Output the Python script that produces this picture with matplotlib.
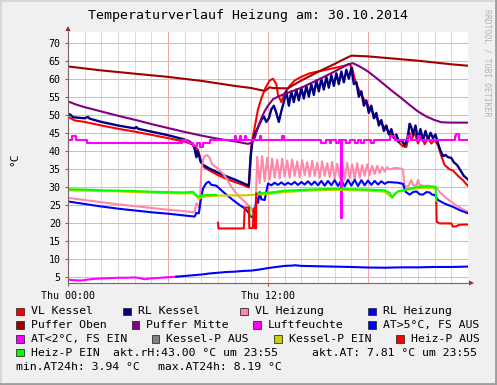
import numpy as np
import matplotlib
matplotlib.use("Agg")
import matplotlib.pyplot as plt
from matplotlib.patches import Rectangle, Polygon
from matplotlib.lines import Line2D

NAN = np.nan
MONO = "DejaVu Sans Mono"

# ---------------- data (hours since Thu 00:00, degC / %) ----------------
vk_t = [0, 0.4, 1, 2, 3, 4, 5, 6, 7, 7.4, 7.6, 7.8, 7.9, 8.0, 8.2, 8.5, 9.0, 9.5, 10.0, 10.5, 10.85,
        11.0, 11.2, 11.4, 11.6, 11.85, 12.1, 12.3, 12.5, 12.6, 12.8, 13.0, 13.3, 13.6, 14.0, 14.5, 15.0,
        15.5, 16.0, 16.5, 16.9, 17.05, 17.2, 17.4, 17.6, 17.8, 18.0, 18.3, 18.6, 18.9, 19.2, 19.5, 19.8,
        20.1, 20.3, 20.5, 20.6, 20.8, 21.0, 21.2, 21.4, 21.6, 21.8, 22.0, 22.2, 22.4, 22.6, 22.9, 23.1,
        23.4, 23.7, 24.0]
vk_v = [49.4, 48.4, 48.0, 47.0, 46.1, 45.3, 44.4, 43.5, 42.5, 41.9, 41.3, 40.2, 38.5, 36.8, 35.3, 34.5,
        33.2, 32.2, 31.3, 30.5, 29.8, 41.5, 46.5, 51.5, 54.5, 57.5, 59.5, 60.0, 58.5, 55.5, 53.5, 56.0,
        58.0, 59.5, 60.5, 61.5, 62.0, 62.5, 63.0, 63.5, 64.0, 63.0, 60.0, 57.5, 55.5, 54.0, 52.5, 50.5,
        48.5, 47.0, 45.5, 44.0, 42.5, 41.2, 41.0, 45.0, 43.0, 45.0, 42.0, 44.5, 41.8, 43.5, 42.0, 43.0,
        41.5, 38.5, 36.0, 34.8, 34.5, 33.0, 31.8, 30.2]

rk_t = [0, 0.15, 0.3, 1.0, 1.2, 1.3, 2, 3, 4, 4.1, 4.2, 5, 6, 7, 7.3, 7.5, 7.6, 7.7, 7.75, 7.85, 7.95,
        8.05, 8.2, 8.5, 9.0, 9.5, 10.0, 10.5, 10.85, 10.95, 11.05, 11.2, 11.4, 11.6, 11.75, 11.9, 12.05,
        12.2, 12.35, 12.5, 12.65, 12.8, 12.95, 13.1, 13.25, 13.4, 13.55, 13.7, 13.85, 14.0, 14.15, 14.3,
        14.45, 14.6, 14.75, 14.9, 15.05, 15.2, 15.35, 15.5, 15.65, 15.8, 15.95, 16.1, 16.25, 16.4, 16.55,
        16.7, 16.85, 17.0, 17.15, 17.3, 17.45, 17.6, 17.75, 17.9, 18.05, 18.2, 18.35, 18.5, 18.65, 18.8,
        18.95, 19.1, 19.25, 19.4, 19.55, 19.7, 19.85, 20.0, 20.2, 20.35, 20.5, 20.6, 20.7, 20.85, 21.0,
        21.15, 21.3, 21.45, 21.6, 21.75, 21.9, 22.05, 22.2, 22.35, 22.5, 22.65, 22.8, 23.0, 23.15, 23.35,
        23.55, 23.75, 24.0]
rk_v = [50.2, 50.0, 49.3, 49.0, 49.4, 48.9, 48.0, 47.0, 46.2, 46.6, 46.1, 45.3, 44.3, 43.1, 42.5, 41.8,
        40.5, 38.2, 40.0, 39.0, 37.0, 36.3, 35.8, 35.0, 33.9, 32.9, 32.0, 31.0, 30.3, 38.0, 42.0, 44.5,
        46.5, 48.5, 49.5, 48.0, 49.0, 51.5, 52.5, 50.5, 48.0, 51.0, 53.5, 56.5, 52.5, 56.5, 53.5, 57.0,
        54.0, 57.5, 54.5, 58.0, 55.0, 58.5, 55.5, 59.5, 56.5, 60.0, 57.0, 60.5, 57.5, 61.0, 58.0, 61.5,
        58.5, 62.0, 59.0, 62.5, 60.0, 63.0, 58.5, 59.0, 55.0, 56.5, 52.5, 54.0, 50.5, 52.5, 49.0, 50.5,
        47.0, 48.5, 45.5, 47.0, 44.5, 46.0, 43.5, 44.5, 42.5, 43.0, 41.5, 43.0, 47.5, 46.5, 44.5, 47.0,
        43.0, 46.0, 42.8, 45.5, 43.0, 45.0, 43.5, 44.5, 42.0, 40.0, 38.5, 38.8, 38.2, 38.0, 36.8, 36.0,
        34.5, 33.0, 32.0]

vh_t = [0, 1, 2, 3, 4, 5, 6, 7, 7.5, 7.6, 7.7, 7.8, 7.9, 8.0, 8.15, 8.35, 8.5, 8.65, 9.0, 9.4, 9.8,
        10.2, 10.5, 10.9, 11.1, 11.25,
        11.35, 11.5, 11.65, 11.8, 11.95, 12.1, 12.25, 12.4, 12.55, 12.7, 12.85, 13.0, 13.15, 13.3, 13.45,
        13.6, 13.75, 13.9, 14.05, 14.2, 14.35, 14.5, 14.65, 14.8, 14.95, 15.1, 15.25, 15.4, 15.55, 15.7,
        15.85, 16.0, 16.15, 16.3, 16.45, 16.6, 16.75, 16.9, 17.05, 17.2, 17.35, 17.5, 17.65, 17.8, 17.95,
        18.1, 18.25, 18.4, 18.55, 18.7, 18.85, 19.0, 19.15, 19.3,
        19.6, 19.9, 20.1, 20.2, 20.4, 20.6, 20.7, 20.9, 21.0, 21.1, 21.4, 21.6, 21.9, 22.1, 22.3, 22.6,
        23.1, 23.5, 24.0]
vh_v = [26.9, 26.3, 25.7, 25.1, 24.6, 24.1, 23.6, 23.2, 22.9, 23.0, 25.4, 25.0, 24.0, 34.6, 38.3, 38.8,
        38.0, 36.2, 35.0, 33.1, 30.0, 27.5, 26.3, 24.5, 23.0, 22.8,
        38.3, 31.0, 38.5, 31.5, 38.0, 32.0, 37.8, 32.5, 37.5, 32.3, 37.8, 32.8, 37.3, 32.5, 37.6, 33.0,
        37.0, 32.6, 37.4, 33.2, 36.8, 32.8, 37.2, 33.0, 36.6, 32.5, 37.0, 33.0, 36.5, 32.6, 36.9, 32.2,
        36.4, 32.5, 37.0, 32.0, 36.6, 32.4, 36.2, 32.0, 36.5, 32.5, 36.0, 33.0, 36.2, 33.2, 35.8, 33.5,
        35.8, 33.8, 35.5, 34.2, 35.4, 34.8,
        35.2, 35.1, 34.8, 30.2, 30.0, 31.8, 30.5, 30.2, 31.9, 30.5, 30.2, 30.3, 30.0, 29.8, 28.5, 27.2,
        25.4, 24.2, 23.0]

rh_t = [0, 1, 2, 3, 4, 5, 6, 7, 7.6, 7.7, 7.85, 7.95, 8.1, 8.3, 8.45, 8.6, 8.9, 9.2, 9.5, 9.9, 10.3,
        10.6, 10.8, 10.95, 11.2, 11.3, 11.4, 11.5, 11.6, 11.8,
        12.0, 12.2, 12.4, 12.6, 12.8, 13.0, 13.2, 13.4, 13.6, 13.8, 14.0, 14.2, 14.4, 14.6, 14.8, 15.0,
        15.2, 15.4, 15.6, 15.8, 16.0, 16.2, 16.4, 16.6, 16.8, 17.0, 17.2, 17.4, 17.6, 17.8, 18.0, 18.2,
        18.4, 18.6, 18.8, 19.0, 19.2, 19.5, 19.8, 20.1, 20.25, 20.5, 20.7, 20.9, 21.1, 21.3, 21.5, 21.7,
        21.85, 22.0, 22.2, 22.6, 23.1, 23.5, 24.0]
rh_v = [25.9, 25.2, 24.5, 23.9, 23.4, 22.9, 22.5, 22.0, 21.7, 22.7, 22.6, 25.8, 29.5, 31.0, 31.4, 30.5,
        30.3, 29.0, 27.8, 26.3, 24.9, 24.0, 23.0, 21.7, 21.6, 27.0, 25.5, 28.5, 26.5, 26.3,
        30.9, 30.4, 31.1, 30.5, 31.2, 30.5, 31.1, 30.6, 31.3, 30.5, 31.3, 30.6, 31.5, 30.5, 31.4, 30.4,
        31.6, 30.3, 31.6, 30.4, 31.8, 30.2, 31.8, 30.1, 31.9, 30.3, 31.9, 30.2, 31.8, 30.4, 31.7, 30.5,
        31.6, 30.6, 31.5, 30.8, 31.3, 31.2, 31.1, 30.8, 28.6, 27.8, 28.5, 28.7, 27.9, 27.8, 28.5, 28.4,
        27.8, 27.7, 26.3, 25.3, 24.4, 23.5, 22.6]

po_t = [0, 2, 4, 6, 8, 10, 11, 11.8, 12.1, 12.3, 13.2, 13.5, 14, 14.5, 15, 15.5, 16, 16.5, 17,
        18, 19, 20, 21, 22, 23, 24]
po_v = [63.4, 62.3, 61.4, 60.5, 59.4, 58.0, 57.4, 56.6, 57.6, 57.4, 57.3, 58.2, 59.5, 60.7, 61.9,
        63.0, 64.1, 65.3, 66.4, 66.2, 65.8, 65.4, 65.0, 64.5, 64.0, 63.6]

pm_t = [0, 0.5, 1, 2, 3, 4, 5, 6, 7, 8, 9, 10, 10.8, 11.0, 11.2, 11.4, 11.6, 11.8, 12.0, 12.3, 12.6,
        13.0, 13.5, 14.0, 15, 16, 16.8, 17.1, 17.5, 18, 18.5, 19, 19.5, 20, 20.5, 21, 21.5, 22, 22.4,
        23, 24]
pm_v = [53.7, 52.8, 52.1, 50.9, 49.7, 48.6, 47.4, 46.3, 45.2, 44.2, 43.3, 42.6, 41.9, 42.2, 43.5,
        46.5, 49.0, 51.0, 52.5, 54.3, 55.0, 55.8, 56.6, 57.5, 59.7, 62.0, 64.0, 64.3, 63.4, 62.0, 60.2,
        58.3, 56.4, 54.6, 52.7, 50.9, 49.5, 48.5, 47.9, 47.8, 47.8]

lf_t = [0, 0.24, 0.50, 1.14, 6.82, 7.22, 7.52, 7.72, 7.92, 8.08, 8.52, 10.0, 10.1, 10.3, 10.4, 10.6,
        10.7, 11.5, 11.6, 12.85, 12.95, 15.2, 15.5, 15.7, 15.8, 16.1, 16.25, 16.38, 16.42, 16.7, 16.9,
        17.2, 17.4, 17.6, 17.75, 18.2, 18.35, 19.3, 19.6, 20.4, 20.55, 21.0, 21.1, 23.2, 23.3, 23.45, 24]
lf_v = [43, 44, 43, 42, 43, 42, 41.2, 42, 41, 42, 43, 44, 43, 44, 43, 44, 43, 44, 43, 44, 43, 42, 43,
        42, 43, 42, 43, 21.3, 43, 42, 43, 42, 43, 42, 43, 42, 43, 44, 43, 44, 43, 44, 43, 44, 44.7, 43, 43]

at_t = [0, 0.4, 0.8, 1.2, 1.6, 2.0, 2.5, 3.0, 3.5, 4.0, 4.3, 4.6, 4.9, 5.3, 5.8, 6.5, 7.0, 7.5, 8.0,
        8.5, 9.0, 9.5, 10.0, 10.5, 11.0, 11.5, 12.0, 12.5, 13.0, 13.5, 13.6, 14.0, 15.0, 16.0, 17.0,
        18.0, 19.0, 20.0, 21.0, 22.0, 23.0, 24.0]
at_v = [4.2, 4.0, 3.95, 4.2, 4.4, 4.5, 4.6, 4.7, 4.7, 4.8, 4.6, 4.3, 4.5, 4.6, 4.8, 5.0, 5.2, 5.4, 5.6,
        5.9, 6.1, 6.3, 6.4, 6.6, 6.7, 7.0, 7.4, 7.7, 8.0, 8.1, 8.19, 8.0, 7.9, 7.8, 7.7, 7.55, 7.5,
        7.6, 7.6, 7.7, 7.7, 7.81]
at_split = 15  # index where the outdoor line turns from magenta to blue

kp_t = [0, 1, 2, 3, 4, 5, 6, 7, 7.5, 7.7, 7.85, 8.0, 8.3, 9, 10, 10.5, 11.0, 11.3, 12, 13, 14, 15,
        16, 17, 18, 19, 19.3, 19.45, 19.6, 19.8, 20.5, 21, 21.5, 22.1]
kp_v = [29.0, 28.9, 28.8, 28.7, 28.5, 28.4, 28.2, 28.1, 28.2, 27.5, 26.5, 27.0, 27.3, 27.5, 27.6,
        27.6, 27.7, 27.8, 28.0, 28.5, 28.8, 29.0, 29.1, 29.0, 28.9, 28.6, 27.5, 27.0, 27.8, 28.6, 29.3,
        29.6, 29.7, 29.6]

hp_on_t = [0, 1, 2, 3, 4, 5, 6, 7, 7.5, 7.65, 7.8, 8.0, 8.5, 8.9, NAN, 10.88, 10.9, NAN,
           11.3, 12, 13, 14, 15, 16, 17, 18, 19, 19.3, 19.45, 19.6, 19.8, 20.3, 20.8, 21.3, 22.05, 22.1]
hp_on_v = [29.3, 29.2, 29.0, 28.9, 28.8, 28.6, 28.5, 28.4, 28.6, 27.8, 27.2, 27.6, 27.7, 27.7, NAN,
           24.4, 21.7, NAN, 28.1, 28.3, 28.9, 29.1, 29.3, 29.4, 29.3, 29.2, 29.0, 28.3, 27.0, 28.0,
           28.7, 29.2, 29.8, 30.0, 30.0, 25.5]

hp_off_t = [9.0, 9.03, 10.55, 10.6, 10.85, 10.88, 11.1, 11.13, 11.2, 11.23, 11.28, 11.3, NAN,
            22.1, 22.12, 22.3, 23.0, 23.1, 23.3, 23.45, 24.0]
hp_off_v = [20.0, 18.4, 18.4, 24.2, 24.2, 18.5, 18.5, 24.0, 24.0, 18.4, 18.4, 28.1, NAN,
            25.5, 20.3, 19.8, 19.8, 18.9, 19.0, 19.4, 19.5]

legend_rows = [
    [("VL Kessel", "#FF0000", 16), ("RL Kessel", "#000080", 123.3),
     ("VL Heizung", "#FF88A8", 240), ("RL Heizung", "#0000FF", 368.3)],
    [("Puffer Oben", "#A00000", 16), ("Puffer Mitte", "#800080", 131.7),
     ("Luftfeuchte", "#FF00FF", 253.3), ("AT>5°C, FS AUS", "#0000FF", 368.3)],
    [("AT<2°C, FS EIN", "#FF00FF", 16), ("Kessel-P AUS", "#808080", 151.7),
     ("Kessel-P EIN", "#CCCC00", 274), ("Heiz-P AUS", "#FF0000", 396)],
    [("Heiz-P EIN", "#00FF00", 16)],
]
legend_y = [311.3, 325.0, 339.0, 352.7]
info_texts = [("akt.rH:43.00 °C um 23:55", 113.3, 352.7), ("akt.AT: 7.81 °C um 23:55", 312.3, 352.7),
              ("min.AT24h: 3.94 °C", 16, 367.5), ("max.AT24h: 8.19 °C", 158.3, 367.5)]

title = "Temperaturverlauf Heizung am: 30.10.2014"
x_ticks = [0, 12]
x_ticklabels = ["Thu 00:00", "Thu 12:00"]
y_ticks = list(range(5, 75, 5))

# ---------------- figure ----------------
W, H = 497, 385
fig = plt.figure(figsize=(W / 100, H / 100), dpi=100)
fig.patch.set_facecolor("#F0F0F0")


def fx(x):
    return x / W


def fy(y):
    return 1 - y / H


def val_of_px(p):
    return (294.7 - p) / 3.6


ax = fig.add_axes([fx(68), fy(283), 400 / W, 251 / H])
ax.set_facecolor("white")
ax.set_xlim(0, 24)
ax.set_ylim(val_of_px(283), val_of_px(32))
for s in ax.spines.values():
    s.set_visible(False)

# grid
for h in range(1, 25):
    if h % 6 == 0:
        ax.axvline(h, color="#EFA8A8", lw=0.75, zorder=1)
    else:
        ax.axvline(h, color="#DADADA", lw=0.75, zorder=0.9)
for v in y_ticks:
    ax.axhline(v, color="#E9B4B4", lw=0.75, zorder=1)

lw = 1.5
ax.plot(vk_t, vk_v, color="#FF0000", lw=lw, zorder=3)
ax.plot(rk_t, rk_v, color="#000080", lw=lw + 0.2, zorder=3.1)
ax.plot(vh_t, vh_v, color="#FF88A8", lw=lw, zorder=3.2)
ax.plot(rh_t, rh_v, color="#0000FF", lw=lw, zorder=3.3)
ax.plot(po_t, po_v, color="#A00000", lw=lw, zorder=3.4)
ax.plot(pm_t, pm_v, color="#800080", lw=lw, zorder=3.5)
ax.plot(lf_t, lf_v, color="#FF00FF", lw=lw, zorder=3.6, drawstyle="steps-post")
ax.plot(at_t[:at_split + 1], at_v[:at_split + 1], color="#FF00FF", lw=lw, zorder=3.7)
ax.plot(at_t[at_split:], at_v[at_split:], color="#0000FF", lw=lw, zorder=3.7)
ax.plot(kp_t, kp_v, color="#CCCC00", lw=lw, zorder=3.8)
ax.plot(hp_on_t, hp_on_v, color="#00FF00", lw=lw, zorder=3.9)
ax.plot(hp_off_t, hp_off_v, color="#FF0000", lw=lw, zorder=3.9)

# ticks
ax.set_xticks(x_ticks)
ax.set_xticklabels(x_ticklabels, fontfamily=MONO, fontsize=7.2)
ax.set_yticks(y_ticks)
ax.set_yticklabels([str(v) for v in y_ticks], fontfamily=MONO, fontsize=7.2)
ax.tick_params(axis="both", length=2.2, width=0.8, color="#806060", pad=3.0)
ax.tick_params(axis="x", pad=3.4)

# axis lines and arrows
axis_col = "#806060"
fig.add_artist(Line2D([fx(68), fx(68)], [fy(283), fy(30)], color=axis_col, lw=0.8))
fig.add_artist(Line2D([fx(68), fx(470)], [fy(283), fy(283)], color=axis_col, lw=0.8))
fig.add_artist(Polygon([[fx(65.5), fy(31)], [fx(70.5), fy(31)], [fx(68), fy(26)]],
                       closed=True, color="#A02020", lw=0))
fig.add_artist(Polygon([[fx(469), fy(280.5)], [fx(469), fy(285.5)], [fx(474), fy(283)]],
                       closed=True, color="#A02020", lw=0))

# texts
fig.text(fx(247.7), fy(16), title, fontfamily=MONO, fontsize=9.5, ha="center", va="center")
fig.text(fx(14), fy(159), "°C", fontfamily=MONO, fontsize=8, rotation=90, ha="center", va="center")
fig.text(fx(486.5), fy(62.5), "RRDTOOL / TOBI OETIKER", fontfamily=MONO, fontsize=5.9,
         rotation=270, ha="center", va="center", color="#B4B4B4")

# legend
bs = 7.5
for row, yy in zip(legend_rows, legend_y):
    for label, col, x0 in row:
        fig.add_artist(Rectangle((fx(x0), fy(yy + bs / 2)), bs / W, bs / H, facecolor=col,
                                 edgecolor="#303030", lw=0.6))
        fig.text(fx(x0 + 14.7), fy(yy), label, fontfamily=MONO, fontsize=8.25, ha="left", va="center")
for txt, x0, yy in info_texts:
    fig.text(fx(x0), fy(yy), txt, fontfamily=MONO, fontsize=8.25, ha="left", va="center")

# 3D border
fig.add_artist(Line2D([0, 1], [fy(0.8), fy(0.8)], color="#D2D2D2", lw=1.2))
fig.add_artist(Line2D([fx(0.8), fx(0.8)], [0, 1], color="#D2D2D2", lw=1.2))
fig.add_artist(Line2D([0, 1], [fy(383.6), fy(383.6)], color="#9E9E9E", lw=2.0))
fig.add_artist(Line2D([fx(495.6), fx(495.6)], [0, 1], color="#9E9E9E", lw=2.0))

fig.savefig("out.png", dpi=100, facecolor=fig.get_facecolor())
